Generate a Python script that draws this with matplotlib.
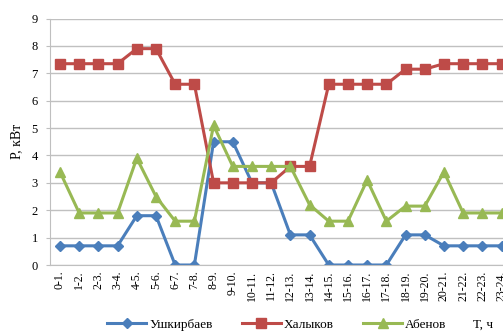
import matplotlib.pyplot as plt
import numpy as np

plt.rcParams['font.family'] = ['Liberation Serif', 'DejaVu Serif']

hours = ["0-1.", "1-2.", "2-3.", "3-4.", "4-5.", "5-6.", "6-7.", "7-8.", "8-9.",
         "9-10.", "10-11.", "11-12.", "12-13.", "13-14.", "14-15.", "15-16.",
         "16-17.", "17-18.", "18-19.", "19-20.", "20-21.", "21-22.", "22-23.", "23-24."]
ushkirbaev = [0.7, 0.7, 0.7, 0.7, 1.8, 1.8, 0.0, 0.0, 4.5, 4.5, 3.0, 3.0,
              1.1, 1.1, 0.0, 0.0, 0.0, 0.0, 1.1, 1.1, 0.7, 0.7, 0.7, 0.7]
halykov = [7.35, 7.35, 7.35, 7.35, 7.9, 7.9, 6.6, 6.6, 3.0, 3.0, 3.0, 3.0,
           3.6, 3.6, 6.6, 6.6, 6.6, 6.6, 7.15, 7.15, 7.35, 7.35, 7.35, 7.35]
abenov = [3.4, 1.9, 1.9, 1.9, 3.9, 2.5, 1.6, 1.6, 5.1, 3.6, 3.6, 3.6,
          3.6, 2.2, 1.6, 1.6, 3.1, 1.6, 2.15, 2.15, 3.4, 1.9, 1.9, 1.9]

fig = plt.figure(figsize=(5.03, 3.33), dpi=100)
ax = fig.add_axes([0.1002, 0.2042, 0.916, 0.7402])

x = np.arange(len(hours))
ax.plot(x, ushkirbaev, color='#4a7ebb', lw=2.2, marker='D', ms=5, label='Ушкирбаев')
ax.plot(x, halykov, color='#be4b48', lw=2.2, marker='s', ms=6.5, label='Халыков')
ax.plot(x, abenov, color='#98b954', lw=2.2, marker='^', ms=7, label='Абенов')

ax.set_xlim(-0.5, len(hours) - 0.5)
ax.set_ylim(0, 9)
ax.set_yticks(range(10))
ax.set_xticks(x)
ax.set_xticklabels(hours, rotation=90, fontsize=8.5)
ax.tick_params(axis='y', labelsize=9, length=3, color='#bfbfbf', pad=6)
ax.tick_params(axis='x', length=0, pad=4)
ax.yaxis.grid(True, color='#c0c0c0', lw=1)
ax.set_axisbelow(True)
for s in ['top', 'right']:
    ax.spines[s].set_visible(False)
ax.spines['left'].set_color('#bfbfbf')
ax.spines['bottom'].set_color('#bfbfbf')

ax.set_ylabel('P, кВт', fontsize=10, labelpad=6)

fig.legend(loc='center', bbox_to_anchor=(0.55, 0.025), ncol=3, frameon=False,
           fontsize=9.5, handlelength=3, columnspacing=2.2, handletextpad=0.2)
fig.text(0.94, 0.025, 'Т, ч', fontsize=9.5, va='center')

fig.savefig('out.png', dpi=100)
